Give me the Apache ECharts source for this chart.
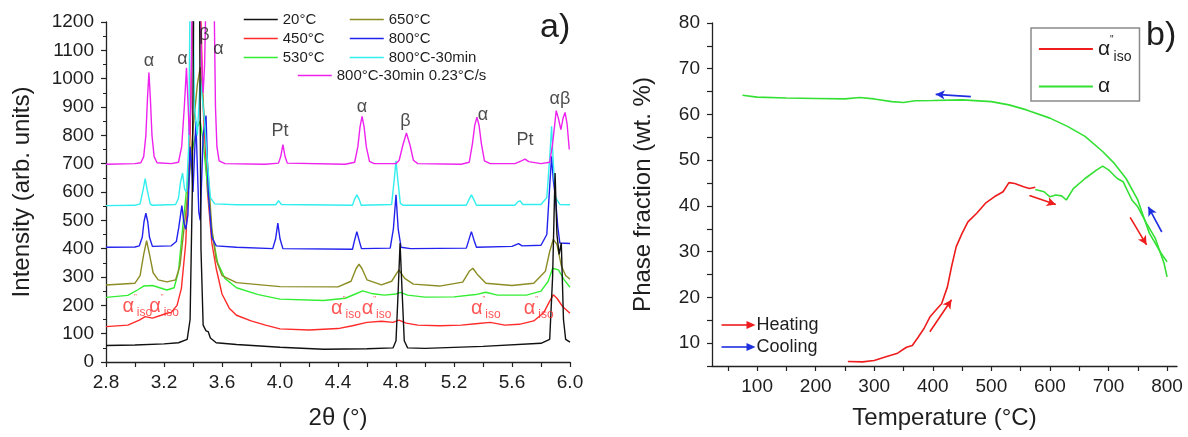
<!DOCTYPE html>
<html>
<head>
<meta charset="utf-8">
<script src="https://cdn.jsdelivr.net/npm/echarts@6/dist/echarts.min.js"></script>
<style>html,body{margin:0;padding:0;background:#fff}#c{width:1188px;height:437px}</style>
</head>
<body>
<div id="c"></div>
<script>
// ---------- Panel a) data : [2θ, intensity] ----------
const xTicksA = [2.8, 3.2, 3.6, 4.0, 4.4, 4.8, 5.2, 5.6, 6.0];
const xMinorA = [2.8, 3.0, 3.2, 3.4, 3.6, 3.8, 4.0, 4.2, 4.4, 4.6, 4.8, 5.0, 5.2, 5.4, 5.6, 5.8, 6.0];
const namesA = ['20°C', '450°C', '530°C', '650°C', '800°C', '800°C-30min', '800°C-30min 0.23°C/s'];

const s20 = [[2.80,58],[3.00,60],[3.20,64],[3.30,68],[3.36,80],[3.38,150],[3.395,600],[3.405,1300],[3.43,1300],[3.445,1300],[3.455,400],[3.47,130],[3.49,110],[3.505,107],[3.52,85],[3.56,68],[3.70,62],[4.00,52],[4.30,45],[4.60,47],[4.78,50],[4.80,75],[4.815,250],[4.828,419],[4.842,250],[4.857,75],[4.88,50],[5.00,48],[5.40,55],[5.80,66],[5.86,80],[5.88,300],[5.897,667],[5.91,450],[5.925,380],[5.94,420],[5.955,150],[5.97,80],[6.00,70]];
const s450 = [[2.80,125],[2.95,130],[3.03,148],[3.07,160],[3.12,155],[3.18,165],[3.22,172],[3.25,175],[3.29,200],[3.32,260],[3.35,420],[3.38,800],[3.40,1300],[3.45,1300],[3.47,900],[3.50,600],[3.53,420],[3.56,330],[3.60,240],[3.65,190],[3.70,165],[3.80,145],[3.90,130],[4.00,117],[4.20,113],[4.40,118],[4.50,128],[4.60,140],[4.70,144],[4.78,140],[4.82,148],[4.87,137],[4.95,130],[5.10,128],[5.25,130],[5.35,135],[5.45,140],[5.55,130],[5.65,133],[5.75,145],[5.82,175],[5.86,215],[5.885,237],[5.91,225],[5.95,195],[6.00,172]];
const s530 = [[2.80,228],[2.95,235],[3.02,255],[3.06,268],[3.12,270],[3.17,262],[3.22,254],[3.27,262],[3.30,320],[3.33,480],[3.36,630],[3.40,760],[3.43,830],[3.45,850],[3.47,780],[3.50,620],[3.53,460],[3.57,350],[3.62,295],[3.70,262],[3.85,238],[4.00,222],[4.30,217],[4.45,225],[4.52,240],[4.57,251],[4.63,242],[4.72,236],[4.80,240],[4.83,246],[4.88,236],[5.00,229],[5.20,230],[5.35,238],[5.42,246],[5.50,236],[5.70,236],[5.80,250],[5.85,285],[5.88,331],[5.92,325],[5.96,290],[6.00,264]];
const s650 = [[2.80,272],[3.00,278],[3.035,305],[3.06,380],[3.08,428],[3.10,380],[3.125,315],[3.16,290],[3.22,283],[3.28,290],[3.31,340],[3.34,480],[3.37,620],[3.40,820],[3.43,980],[3.45,1040],[3.47,920],[3.50,700],[3.53,470],[3.56,360],[3.60,305],[3.70,280],[4.00,266],[4.40,265],[4.49,285],[4.525,330],[4.545,345],[4.565,330],[4.60,290],[4.70,272],[4.77,285],[4.82,325],[4.86,295],[4.92,275],[5.10,268],[5.26,282],[5.305,320],[5.33,331],[5.36,310],[5.42,278],[5.60,270],[5.75,278],[5.83,320],[5.86,390],[5.885,433],[5.91,415],[5.94,340],[5.97,305],[6.00,292]];
const s800 = [[2.80,405],[3.00,406],[3.03,410],[3.05,440],[3.062,495],[3.075,525],[3.088,495],[3.10,440],[3.12,408],[3.25,410],[3.285,425],[3.302,475],[3.323,552],[3.338,490],[3.35,468],[3.365,520],[3.38,760],[3.39,700],[3.40,600],[3.42,850],[3.44,530],[3.45,500],[3.47,800],[3.49,870],[3.505,600],[3.53,440],[3.56,410],[3.70,405],[3.95,400],[3.97,435],[3.985,490],[4.00,435],[4.02,400],[4.50,398],[4.512,425],[4.53,460],[4.548,425],[4.562,400],[4.76,402],[4.782,470],[4.80,590],[4.815,470],[4.835,405],[4.90,400],[5.285,402],[5.302,430],[5.32,460],[5.338,430],[5.355,405],[5.60,408],[5.645,418],[5.67,410],[5.80,412],[5.84,450],[5.86,620],[5.873,726],[5.885,640],[5.90,580],[5.915,480],[5.93,420],[6.00,418]];
const s800h = [[2.80,552],[3.00,553],[3.035,558],[3.055,605],[3.07,647],[3.085,605],[3.105,558],[3.12,553],[3.28,556],[3.30,578],[3.313,632],[3.328,667],[3.342,610],[3.355,600],[3.37,760],[3.38,1300],[3.40,1300],[3.41,900],[3.43,800],[3.45,1000],[3.48,850],[3.50,700],[3.52,580],[3.55,558],[3.70,555],[3.97,555],[3.99,569],[4.01,556],[4.50,553],[4.513,573],[4.53,590],[4.547,573],[4.56,553],[4.77,556],[4.787,640],[4.80,710],[4.813,640],[4.83,560],[4.85,553],[5.285,553],[5.303,573],[5.32,590],[5.337,573],[5.355,553],[5.62,553],[5.64,565],[5.655,569],[5.675,556],[5.80,556],[5.84,580],[5.86,720],[5.873,832],[5.885,700],[5.90,580],[5.93,556],[6.00,555]];
const s800hs = [[2.80,698],[3.00,700],[3.04,703],[3.06,725],[3.075,800],[3.086,930],[3.096,1022],[3.106,930],[3.117,800],[3.132,725],[3.152,703],[3.25,700],[3.30,705],[3.322,760],[3.34,900],[3.355,1038],[3.365,920],[3.375,800],[3.385,900],[3.395,1300],[3.445,1300],[3.46,1050],[3.47,950],[3.48,1050],[3.49,1300],[3.545,1300],[3.555,900],[3.565,760],[3.58,710],[3.62,700],[3.90,698],[3.99,702],[4.005,725],[4.02,767],[4.035,725],[4.05,702],[4.45,698],[4.515,705],[4.537,760],[4.552,830],[4.566,867],[4.58,830],[4.595,760],[4.617,708],[4.65,700],[4.80,700],[4.822,712],[4.847,765],[4.872,808],[4.897,765],[4.92,712],[4.95,700],[5.25,698],[5.305,705],[5.327,770],[5.343,835],[5.358,864],[5.373,835],[5.389,770],[5.41,710],[5.45,700],[5.62,700],[5.665,710],[5.69,716],[5.715,707],[5.80,700],[5.86,705],[5.88,770],[5.905,887],[5.92,860],[5.937,820],[5.952,860],[5.966,881],[5.98,840],[5.995,750]];

// peak annotations [x, y, label]
const peakLabels = [[3.096,1062,'α'],[3.328,1070,'α'],[3.478,1153,'β'],[3.576,1103,'α'],[4.00,814,'Pt'],[4.566,900,'α'],[4.865,850,'β'],[5.40,870,'α'],[5.69,782,'Pt'],[5.93,929,'αβ']];
const isoLabels = [[3.016,197],[3.201,197],[4.455,190],[4.666,190],[5.419,190],[5.784,190]];

// ---------- Panel b) data : [T (°C), wt.%] ----------
const xTicksB = [100, 200, 300, 400, 500, 600, 700, 800];
const xMinorB = [50, 100, 150, 200, 250, 300, 350, 400, 450, 500, 550, 600, 650, 700, 750, 800];
const yTicksB = [10, 20, 30, 40, 50, 60, 70, 80];
const yMinorB = [5, 10, 15, 20, 25, 30, 35, 40, 45, 50, 55, 60, 65, 70, 75, 80];
const isoHeating = [[255,6.0],[280,5.9],[300,6.2],[320,7.0],[340,7.8],[355,9.1],[365,9.5],[375,11.3],[385,13.2],[395,15.7],[405,17.2],[415,18.6],[425,22.3],[432,26.7],[440,31.1],[450,34.0],[460,36.5],[475,38.4],[490,40.6],[505,42.0],[520,43.1],[530,45.1],[540,44.9],[555,44.2],[565,43.8],[575,44.1]];
const alphaHeating = [[575,43.6],[590,43.1],[600,42.0],[610,42.4],[620,42.2],[628,41.3],[640,43.8],[660,46.0],[680,47.9],[690,48.7],[700,47.9],[715,46.0],[725,45.3],[740,41.3],[750,39.8],[765,36.2],[780,32.9],[795,27.4],[800,24.5]];
const alphaCooling = [[800,27.8],[790,29.6],[780,31.8],[770,34.0],[760,37.6],[750,41.3],[730,46.0],[710,49.3],[690,51.9],[660,55.2],[630,57.4],[600,59.2],[560,61.0],[530,62.1],[500,62.8],[450,63.2],[400,63.05],[370,63.0],[350,62.6],[330,62.8],[300,63.4],[275,63.7],[250,63.4],[200,63.5],[150,63.6],[100,63.8],[75,64.2]];
// direction arrows [x1, y1, x2, y2, kind]
const arrowsB = [[395,12.5,432,19.5,'heat'],[565,42.3,610,40.3,'heat'],[737,37.5,765,31.5,'heat'],[465,63.9,405,64.4,'cool'],[791,34.3,768,39.8,'cool']];

const FONT = '"Liberation Sans", Arial, sans-serif';
const TXT = '#1e1e1e';
const colorsA = ['#111111', '#ff2a2a', '#33ee33', '#8c8c24', '#2222ee', '#33eeee', '#ee22ee'];
const dataA = [s20, s450, s530, s650, s800, s800h, s800hs];
const RED = '#ee1c1c', GREEN = '#33e033', BLUE = '#1f2fe0';

const chart = echarts.init(document.getElementById('c'), null, {renderer: 'canvas'});

const isoRich = {
  a: {fontSize: 20, color: '#ff2a2a', fontFamily: FONT},
  q: {fontSize: 8, color: '#ff2a2a', padding: [0, 0, 18, 0], fontFamily: FONT},
  s: {fontSize: 12, color: '#ff2a2a', padding: [14, 0, 0, 0], fontFamily: FONT}
};

const axisCommon = {
  axisLine: {show: true, lineStyle: {color: '#222', width: 1.3}},
  splitLine: {show: false},
  nameTextStyle: {fontFamily: FONT, fontSize: 24, color: TXT}
};

const seriesA = dataA.map((d, i) => ({
  name: namesA[i], type: 'line', xAxisIndex: 0, yAxisIndex: 0,
  data: d, symbol: 'none', clip: true, z: 2 + (i === 0 ? 7 : i),
  lineStyle: {color: colorsA[i], width: 1.4}, itemStyle: {color: colorsA[i]}
}));

const legendA = {orient: 'vertical', padding: 0, itemGap: 4, itemWidth: 34, itemHeight: 14,
  itemStyle: {opacity: 0}, lineStyle: {width: 1.5},
  textStyle: {fontSize: 15, color: TXT, fontFamily: FONT}};

const option = {
  animation: false,
  textStyle: {fontFamily: FONT},
  grid: [
    {left: 106, top: 22, width: 464, height: 340},
    {left: 712, top: 23, width: 465, height: 343}
  ],
  xAxis: [
    Object.assign({}, axisCommon, {
      type: 'value', gridIndex: 0, min: 2.8, max: 6.0,
      name: '2θ (°)', nameLocation: 'middle', nameGap: 44,
      axisTick: {show: true, length: 5, customValues: xMinorA, lineStyle: {color: '#222', width: 1.2}},
      axisLabel: {fontSize: 19, color: TXT, margin: 11, customValues: xTicksA, formatter: v => v.toFixed(1)}
    }),
    Object.assign({}, axisCommon, {
      type: 'value', gridIndex: 1, min: 23, max: 817,
      name: 'Temperature (°C)', nameLocation: 'middle', nameGap: 40,
      axisTick: {show: true, length: 5, customValues: xMinorB, lineStyle: {color: '#222', width: 1.2}},
      axisLabel: {fontSize: 19, color: TXT, margin: 11, customValues: xTicksB, formatter: v => String(v)}
    })
  ],
  yAxis: [
    Object.assign({}, axisCommon, {
      type: 'value', gridIndex: 0, min: 0, max: 1200, interval: 100,
      name: 'Intensity (arb. units)', nameLocation: 'middle', nameGap: 72,
      axisTick: {show: true, length: 5, lineStyle: {color: '#222', width: 1.2}},
      minorTick: {show: true, splitNumber: 2, length: 3, lineStyle: {color: '#222', width: 1}},
      axisLabel: {fontSize: 19, color: TXT, margin: 12, formatter: v => String(v)}
    }),
    Object.assign({}, axisCommon, {
      type: 'value', gridIndex: 1, min: 5, max: 80,
      name: 'Phase fraction (wt. %)', nameLocation: 'middle', nameGap: 57,
      axisTick: {show: true, length: 5, customValues: yMinorB, lineStyle: {color: '#222', width: 1.2}},
      axisLabel: {fontSize: 19, color: TXT, margin: 12, customValues: yTicksB, formatter: v => String(v)}
    })
  ],
  legend: [
    Object.assign({}, legendA, {data: namesA.slice(0, 3), left: 243, top: 12}),
    Object.assign({}, legendA, {data: namesA.slice(3, 6), left: 349, top: 12}),
    Object.assign({}, legendA, {data: namesA.slice(6), left: 297, top: 68}),
    {data: ["α''iso", 'α'], orient: 'vertical', left: 1031, top: 28, padding: [7, 8, 4, 7], itemGap: 12,
     itemWidth: 54, itemHeight: 14, borderColor: '#8a8a8a', borderWidth: 1.5,
     itemStyle: {opacity: 0}, lineStyle: {width: 1.8},
     formatter: n => n === 'α' ? '{a|α}' : '{a|α}{q|"}{s|iso}',
     textStyle: {fontFamily: FONT, color: TXT, rich: {
       a: {fontSize: 21, color: TXT, fontFamily: FONT},
       q: {fontSize: 10, color: TXT, padding: [0, 0, 18, 0], fontFamily: FONT},
       s: {fontSize: 14, color: TXT, padding: [16, 0, 0, 0], fontFamily: FONT}}}}
  ],
  series: seriesA.concat([
    {type: 'scatter', xAxisIndex: 0, yAxisIndex: 0, data: peakLabels, symbolSize: 0, silent: true, z: 20,
     label: {show: true, position: 'inside', formatter: p => p.data[2], fontSize: 18, color: TXT, fontFamily: FONT}},
    {type: 'scatter', xAxisIndex: 0, yAxisIndex: 0, data: isoLabels, symbolSize: 0, silent: true, z: 20,
     label: {show: true, position: 'inside', formatter: '{a|α}{q|"}{s|iso}', rich: isoRich}},
    {name: "α''iso", type: 'line', xAxisIndex: 1, yAxisIndex: 1, data: isoHeating, symbol: 'none',
     lineStyle: {color: RED, width: 1.6}, itemStyle: {color: RED}},
    {name: 'α', type: 'line', xAxisIndex: 1, yAxisIndex: 1, data: alphaHeating, symbol: 'none',
     lineStyle: {color: GREEN, width: 1.6}, itemStyle: {color: GREEN}},
    {name: 'α', type: 'line', xAxisIndex: 1, yAxisIndex: 1, data: alphaCooling, symbol: 'none',
     lineStyle: {color: GREEN, width: 1.6}, itemStyle: {color: GREEN},
     markLine: {silent: true, symbol: ['none', 'arrow'], symbolSize: [7, 9], label: {show: false}, animation: false,
       data: arrowsB.map(a => [
         {coord: [a[0], a[1]], lineStyle: {color: a[4] === 'heat' ? RED : BLUE, width: 1.6, type: 'solid'}, itemStyle: {color: a[4] === 'heat' ? RED : BLUE}},
         {coord: [a[2], a[3]]}
       ])}}
  ]),
  graphic: [
    {type: 'text', left: 540, top: 11, style: {text: 'a)', font: '34px ' + FONT, fill: TXT}},
    {type: 'text', left: 1146, top: 19, style: {text: 'b)', font: '34px ' + FONT, fill: TXT}},
    {type: 'group', left: 719, top: 316, children: [
      {type: 'line', shape: {x1: 0, y1: 6, x2: 26, y2: 6}, style: {stroke: RED, lineWidth: 1.6}},
      {type: 'polygon', shape: {points: [[25, 2], [34, 6], [25, 10]]}, style: {fill: RED}},
      {type: 'text', x: 35, y: 6, style: {text: 'Heating', font: '18px ' + FONT, fill: TXT, textVerticalAlign: 'middle'}}
    ]},
    {type: 'group', left: 719, top: 338, children: [
      {type: 'line', shape: {x1: 0, y1: 6, x2: 26, y2: 6}, style: {stroke: BLUE, lineWidth: 1.6}},
      {type: 'polygon', shape: {points: [[25, 2], [34, 6], [25, 10]]}, style: {fill: BLUE}},
      {type: 'text', x: 35, y: 6, style: {text: 'Cooling', font: '18px ' + FONT, fill: TXT, textVerticalAlign: 'middle'}}
    ]}
  ]
};
chart.setOption(option);
</script>
</body>
</html>
